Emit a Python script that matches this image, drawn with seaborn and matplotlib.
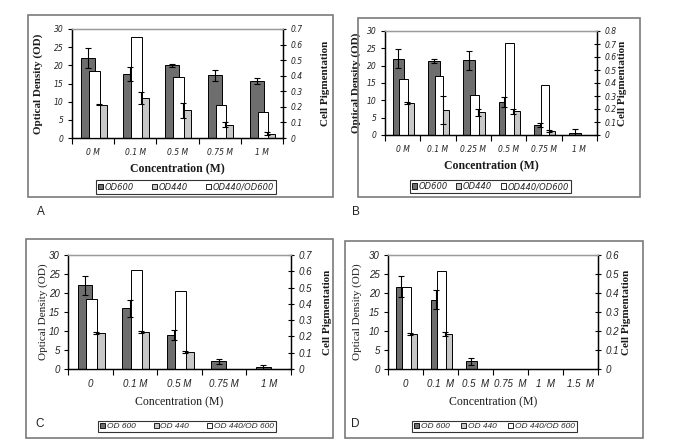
import numpy as np
import matplotlib
matplotlib.use('Agg')
import matplotlib.pyplot as plt
from matplotlib.patches import Rectangle, Patch
import seaborn as sns

# ---- data ----
A_cats = ['0 M', '0.1 M', '0.5 M', '0.75 M', '1 M']
A_od600 = [22.0, 17.6, 20.0, 17.3, 15.6]
A_od600_err = [2.7, 2.0, 0.5, 1.5, 0.8]
A_od440 = [9.2, 11.0, 7.6, 3.7, 1.2]
A_od440_err = [0.2, 1.7, 2.0, 0.8, 0.5]
A_ratio = [0.43, 0.65, 0.39, 0.21, 0.17]

B_cats = ['0 M', '0.1 M', '0.25 M', '0.5 M', '0.75 M', '1 M']
B_od600 = [22.0, 21.3, 21.5, 9.5, 3.0, 0.7]
B_od600_err = [2.7, 0.6, 2.8, 1.5, 0.6, 1.0]
B_od440 = [9.2, 7.2, 6.5, 6.8, 1.2, 0.0]
B_od440_err = [0.3, 4.0, 1.0, 0.6, 0.2, 0.0]
B_ratio = [0.43, 0.455, 0.307, 0.705, 0.387, 0.0]

C_cats = ['0', '0.1 M', '0.5 M', '0.75 M', '1 M']
C_od600 = [22.0, 16.0, 9.0, 2.0, 0.4]
C_od600_err = [2.5, 2.2, 1.3, 0.6, 0.7]
C_od440 = [9.5, 9.8, 4.5, 0.0, 0.0]
C_od440_err = [0.3, 0.2, 0.2, 0.0, 0.0]
C_ratio = [0.43, 0.61, 0.48, 0.0, 0.0]

D_cats = ['0', '0.1  M', '0.5  M', '0.75  M', '1  M', '1.5  M']
D_od600 = [21.7, 18.2, 2.0, 0.0, 0.0, 0.0]
D_od600_err = [2.8, 2.5, 1.0, 0.0, 0.0, 0.0]
D_od440 = [9.3, 9.3, 0.0, 0.0, 0.0, 0.0]
D_od440_err = [0.3, 0.5, 0.0, 0.0, 0.0, 0.0]
D_ratio = [0.43, 0.516, 0.0, 0.0, 0.0, 0.0]

series_names = ['OD600', 'OD440', 'OD440/OD600']
series_names_cd = ['OD 600', 'OD 440', 'OD 440/OD 600']

c_dark = '#6e6e6e'
c_gray = '#c8c8c8'
c_white = '#ffffff'

W, H = 681, 447
sns.set_theme(style='white')
plt.rcParams['font.family'] = ['Liberation Sans', 'DejaVu Sans']

fig = plt.figure(figsize=(W / 100, H / 100), dpi=100)


def fbox(x0, y0, x1, y1):
    # pixel box -> figure fraction [left, bottom, width, height]
    return [x0 / W, 1 - y1 / H, (x1 - x0) / W, (y1 - y0) / H]


def panel(cats, od600, od600_err, od440, od440_err, ratio, rmax, box, axbox,
          legbox, letter, letter_xy, xlab_y, names, bold, tickfont, ticksize,
          lpad, rpad, colsp):
    # outer frame of the panel
    b = fbox(*box)
    fig.patches.append(Rectangle((b[0], b[1]), b[2], b[3], transform=fig.transFigure,
                                 fill=False, edgecolor='#7a7a7a', linewidth=1.2))
    ax = fig.add_axes(fbox(*axbox))
    axr = ax.twinx()
    idx = np.arange(len(cats))

    sns.barplot(x=idx - 0.12, y=od600, native_scale=True, width=0.33, color=c_dark,
                saturation=1, edgecolor='black', linewidth=0.7, errorbar=None, ax=ax)
    sns.barplot(x=idx + 0.22, y=od440, native_scale=True, width=0.2, color=c_gray,
                saturation=1, edgecolor='black', linewidth=0.7, errorbar=None, ax=ax)
    sns.barplot(x=idx + 0.03, y=ratio, native_scale=True, width=0.25, color=c_white,
                saturation=1, edgecolor='black', linewidth=0.7, errorbar=None, ax=axr)

    # error bars in the left-axis scale, drawn above the white bars
    for xs, ys, es in [(idx - 0.12, od600, od600_err), (idx + 0.13, od440, od440_err)]:
        keep = np.array(es) > 0
        axr.errorbar(xs[keep], np.array(ys)[keep], yerr=np.array(es)[keep], fmt='none',
                     ecolor='black', elinewidth=0.8, capsize=2, capthick=0.8,
                     transform=ax.transData, zorder=5)

    n = len(cats)
    ax.set_xlim(0 - 0.5, n - 0.5)
    ax.set_ylim(0, 30)
    ax.set_yticks(np.arange(0, 31, 5))
    axr.set_ylim(0, rmax)
    rt = np.round(np.arange(0, rmax + 1e-9, 0.1), 1)
    axr.set_yticks(rt)
    axr.set_yticklabels(['0'] + ['%.1f' % v for v in rt[1:]])

    ax.set_xticks(np.arange(n + 1) - 0.5)
    ax.set_xticklabels([])
    ax.set_xticks(idx, minor=True)
    ax.set_xticklabels(cats, minor=True)
    ax.tick_params(axis='x', which='major', direction='out', length=4, width=0.8,
                   color='black', bottom=True)
    ax.tick_params(axis='x', which='minor', length=0, pad=7)
    ax.tick_params(axis='y', direction='out', length=3, width=0.8, color='black', left=True, pad=3)
    axr.tick_params(axis='y', direction='inout', length=5, width=0.8, color='black', right=True, pad=3)

    for lab in ax.get_xticklabels(minor=True) + ax.get_yticklabels() + axr.get_yticklabels():
        lab.set_fontfamily(tickfont)
        lab.set_fontstyle('italic')
        lab.set_fontsize(ticksize)
        lab.set_color('#222222')

    for a in (ax, axr):
        for s in ('left', 'right', 'bottom'):
            a.spines[s].set_color('black')
            a.spines[s].set_linewidth(0.9)
        a.spines['top'].set_color('#9a9a9a')
        a.spines['top'].set_linewidth(0.9)
        a.set_xlabel('')

    wt = 'bold' if bold else 'normal'
    ax.set_ylabel('Optical Density (OD)', fontfamily='Liberation Serif', fontweight=wt,
                  fontsize=8, color='#1a1a1a', labelpad=lpad)
    axr.set_ylabel('Cell Pigmentation', fontfamily='Liberation Serif', fontweight='bold',
                   fontsize=8, color='#1a1a1a', labelpad=rpad)
    cx = (axbox[0] + axbox[2]) / 2
    fig.text(cx / W, 1 - xlab_y / H, 'Concentration (M)', ha='center', va='center',
             fontfamily='Liberation Serif', fontweight=wt, fontsize=8.5, color='#1a1a1a')

    handles = [Patch(facecolor=c, edgecolor='black', linewidth=0.6)
               for c in (c_dark, c_gray, c_white)]
    lx = (legbox[0] + legbox[2]) / 2 / W
    ly = 1 - (legbox[1] + legbox[3]) / 2 / H
    leg = fig.legend(handles, names, loc='center', bbox_to_anchor=(lx, ly), ncol=3,
                     frameon=True, fancybox=False, edgecolor='black', borderpad=0.25,
                     handlelength=0.6, handleheight=0.6, handletextpad=0.2,
                     columnspacing=colsp, prop={'family': tickfont, 'style': 'italic', 'size': 6})
    leg.get_frame().set_linewidth(0.8)
    fig.text(letter_xy[0] / W, 1 - letter_xy[1] / H, letter, ha='left', va='center',
             fontsize=8.5, color='#222222')


panel(A_cats, A_od600, A_od600_err, A_od440, A_od440_err, A_ratio, 0.7,
      (28, 15, 333, 197), (72, 29, 283, 138), (93, 180, 279, 194), 'A', (37, 212), 168,
      series_names, True, 'DejaVu Sans', 5.5, 8, 13, 2.2)
panel(B_cats, B_od600, B_od600_err, B_od440, B_od440_err, B_ratio, 0.8,
      (358, 18, 640, 197), (385, 31, 597, 135), (412, 180, 569, 193), 'B', (352, 212), 165,
      series_names, True, 'DejaVu Sans', 5.5, 4, 1, 1.0)
panel(C_cats, C_od600, C_od600_err, C_od440, C_od440_err, C_ratio, 0.7,
      (26, 239, 333, 438), (68, 255, 291, 369), (97, 418, 277, 435), 'C', (35, 424), 402,
      series_names_cd, False, 'Liberation Sans', 7, 1, 8, 2.2)
panel(D_cats, D_od600, D_od600_err, D_od440, D_od440_err, D_ratio, 0.6,
      (345, 241, 643, 438), (388, 255, 598, 369), (411, 418, 578, 435), 'D', (351, 424), 402,
      series_names_cd, False, 'Liberation Sans', 7, 5, 2, 1.4)

fig.savefig('out.png', dpi=100, facecolor='white')
